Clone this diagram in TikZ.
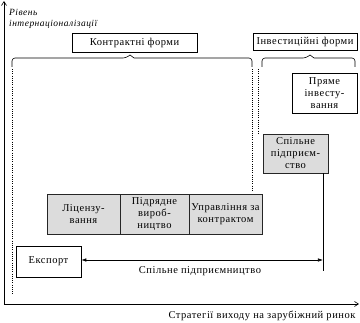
\documentclass[tikz,border=0pt]{standalone}
\usepackage{fontspec}
\setmainfont[LetterSpace=5]{Liberation Serif}
\usetikzlibrary{arrows.meta}
\definecolor{boxgray}{HTML}{DCDCDC}
\tikzset{
  x=1pt, y=-1pt,
  plainbox/.style={draw=black, line width=0.6pt, fill=white, inner sep=1pt, align=center, font=\fontsize{10.5}{12}\selectfont},
  graybox/.style={draw=black!85, line width=0.9pt, fill=boxgray, inner sep=1pt, align=center, font=\fontsize{10.5}{12}\selectfont},
  axis/.style={line width=0.6pt, -{Straight Barb[length=4pt,width=5pt]}},
  bracel/.style={line width=0.6pt, rounded corners=3pt},
  dotl/.style={line width=0.8pt, dash pattern=on 0.9pt off 1.3pt},
}
\begin{document}
\begin{tikzpicture}
\useasboundingbox (0,0) rectangle (360,323);
% axes
\coordinate (o) at (4,304);
\coordinate (ytop) at (4,1);
\coordinate (xend) at (359,304);
\draw[axis] (o) -- (ytop);
\draw[axis] (o) -- (xend);
\node[anchor=west, inner sep=0pt, font=\itshape\fontsize{9.5}{10}\selectfont] (ylab1) at (9,12) {Рівень};
\node[anchor=west, inner sep=0pt, font=\itshape\fontsize{9.5}{10}\selectfont] (ylab2) at (9,24) {інтернаціоналізації};
\node[inner sep=0pt, font=\fontsize{10.5}{11}\selectfont] (xlab) at (262,316) {Стратегії виходу на зарубіжний ринок};
% headers
\node[plainbox, minimum width=125pt, minimum height=19pt] (kontr) at (134.5,42.5) {Контрактні форми};
\node[plainbox, minimum width=104pt, minimum height=17pt] (invest) at (305,41.5) {Інвестиційні форми};
% braces
\draw[bracel] (12,67) -- (12,58) -- (126,58) [sharp corners] -- (130,55) -- (134,58) [rounded corners=3pt] -- (252,58) -- (252,67);
\draw[bracel] (262,67) -- (262,58) -- (306,58) [sharp corners] -- (310,55) -- (314,58) [rounded corners=3pt] -- (355,58) -- (355,67);
% boxes
\node[plainbox, minimum width=65pt, minimum height=40pt] (pryame) at (324.5,93) {Пряме\\інвесту-\\вання};
\node[graybox, minimum width=65pt, minimum height=39pt] (spilne) at (295.5,153.5) {Спільне\\підприєм-\\ство};
\node[graybox, minimum width=73pt, minimum height=40pt] (lic) at (83.5,214) {Ліцензу-\\вання};
\node[graybox, minimum width=69pt, minimum height=40pt] (pidr) at (154.5,214) {Підрядне\\вироб-\\ництво};
\node[graybox, minimum width=73pt, minimum height=40pt] (upr) at (225.5,214) {Управління за\\контрактом};
\node[plainbox, minimum width=65pt, minimum height=31pt] (eksport) at (48.5,261.5) {Експорт};
% dotted lines
\draw[dotl] (12,69) -- (12,295);
\draw[dotl] (252.7,69) -- (252.7,192);
\draw[dotl] (258.3,69) -- (258.3,133);
% joint venture line
\coordinate (vbot) at (323,271);
\draw[line width=0.6pt] (spilne.south -| vbot) -- (vbot);
\coordinate (aR) at (323,260);
\draw[line width=0.6pt, {Latex[length=5pt,width=3.5pt]}-{Latex[length=5pt,width=3.5pt]}] (eksport.east |- aR) -- (aR);
\node[inner sep=0pt, font=\fontsize{10.5}{11}\selectfont] (jvlab) at (200,271) {Спільне підприємництво};
\end{tikzpicture}
\end{document}
